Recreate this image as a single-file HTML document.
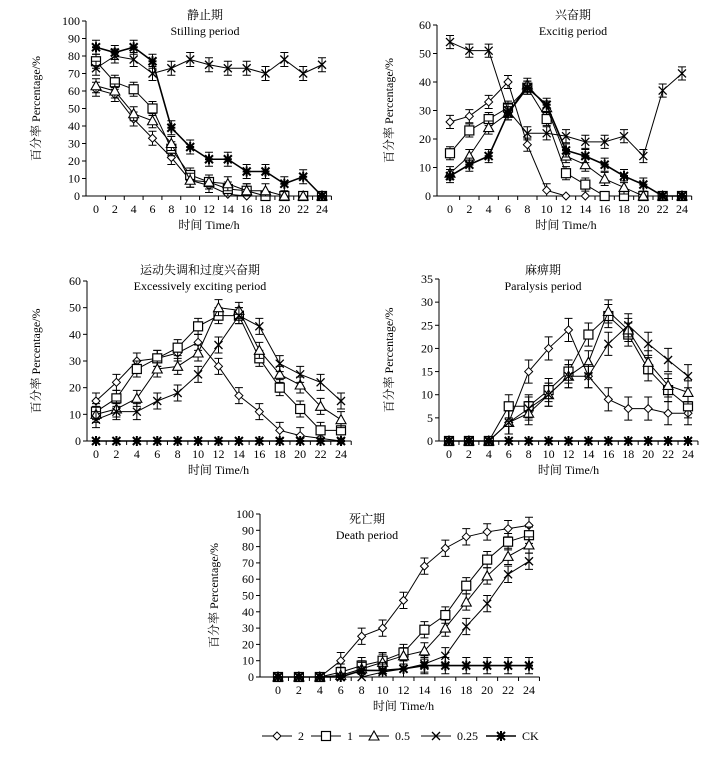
<!DOCTYPE html>
<html><head><meta charset="utf-8">
<style>
html,body{margin:0;padding:0;background:#fff;}
svg text{font-family:"Liberation Serif","Noto Serif CJK SC",serif;fill:#000;}
</style></head>
<body>
<svg id="chart" width="716" height="757" viewBox="0 0 716 757" xmlns="http://www.w3.org/2000/svg"></svg>
<script>
const categories = [0,2,4,6,8,10,12,14,16,18,20,22,24];
const seriesNames = ["2","1","0.5","0.25","CK"];
const markers = ["diamond","square","triangle","x","star"];

const stillingValues = [
 [61,58,44,33,22,9,6,1,0,0,0,0,0],
 [77,65,61,50,27,12,8,4,3,0,0,0,0],
 [63,60,47,43,30,9,8,7,3,3,0,0,0],
 [73,80,78,70,73,78,75,73,73,70,78,70,75],
 [85,82,85,77,39,28,21,21,14,14,7,11,0]
];
const excitingValues = [
 [26,28,33,40,18,2,0,0,0,0,0,0,0],
 [15,23,27,31,38,27,8,4,0,0,0,0,0],
 [8,14,24,29,39,31,14,11,6,3,0,0,0],
 [54,51,51,30,22,22,21,19,19,21,14,37,43],
 [7,11,14,29,38,32,16,14,11,7,4,0,0]
];
const excessiveValues = [
 [15,22,30,31,33,37,28,17,11,4,2,1,0],
 [11,16,27,31,35,43,47,47,31,20,12,4,4],
 [10,12,16,27,28,33,50,49,34,25,21,13,8],
 [8,11,11,15,18,25,36,47,43,29,25,22,15],
 [0,0,0,0,0,0,0,0,0,0,0,0,0]
];
const paralysisValues = [
 [0,0,0,4,15,20,24,14,9,7,7,6,6],
 [0,0,0,7.5,7.5,11,15,23,27,23,15.5,11,7.5],
 [0,0,0,4,6,10,14,17,28,24,17,12,10.5],
 [0,0,0,4,7,10,14,14,21,25,21,17.5,14],
 [0,0,0,0,0,0,0,0,0,0,0,0,0]
];
const deathValues = [
 [0,0,0,10,25,30,47,68,79,86,89,91,93],
 [0,0,0,3,7,10,15,29,38,56,72,83,87],
 [0,0,0,1,5,9,13,16,30,46,62,74,81],
 [0,0,0,0,0,3,5,8,13,31,45,63,71],
 [0,0,0,0,4,4,5,7,7,7,7,7,7]
];
const stillingTicks = [0,10,20,30,40,50,60,70,80,90,100];
const excitingTicks = [0,10,20,30,40,50,60];
const excessiveTicks = [0,10,20,30,40,50,60];
const paralysisTicks = [0,5,10,15,20,25,30,35];
const deathTicks = [0,10,20,30,40,50,60,70,80,90,100];

const panels = [
 {name:"stilling",data:stillingValues,ticks:stillingTicks,max:100,ax:86,x0:96,x24:322,yTop:21,yBot:196,err:4,cn:"静止期",en:"Stilling period",tx:205,ty:19,ylx:40,xlY:229},
 {name:"exciting",data:excitingValues,ticks:excitingTicks,max:60,ax:437,x0:450,x24:682,yTop:25,yBot:196,err:2.3,cn:"兴奋期",en:"Excitig period",tx:573,ty:19,ylx:393,xlY:229},
 {name:"excessive",data:excessiveValues,ticks:excessiveTicks,max:60,ax:87,x0:96,x24:341,yTop:281,yBot:441,err:3,cn:"运动失调和过度兴奋期",en:"Excessively exciting period",tx:200,ty:274,ylx:40,xlY:474},
 {name:"paralysis",data:paralysisValues,ticks:paralysisTicks,max:35,ax:439,x0:449,x24:688,yTop:279,yBot:441,err:2.5,cn:"麻痹期",en:"Paralysis period",tx:543,ty:274,ylx:393,xlY:474},
 {name:"death",data:deathValues,ticks:deathTicks,max:100,ax:260,x0:278,x24:529,yTop:514,yBot:677,err:5,cn:"死亡期",en:"Death period",tx:367,ty:523,ylx:218,xlY:710}
];

const NS="http://www.w3.org/2000/svg";
const svg=document.getElementById('chart');
function mk(tag,attrs,parent){const e=document.createElementNS(NS,tag);for(const k in attrs)e.setAttribute(k,attrs[k]);(parent||svg).appendChild(e);return e;}

function drawMarker(g,type,x,y){
 const s="#000";
 if(type==="diamond"){const e=mk('polygon',{points:`${x},${y-4} ${x+4},${y} ${x},${y+4} ${x-4},${y}`,fill:"#fff",stroke:s,"stroke-width":1},g);
  }
 else if(type==="square"){const e=mk('rect',{x:x-4.5,y:y-4.5,width:9,height:9,fill:"#fff",stroke:s,"stroke-width":1.2},g);
  }
 else if(type==="triangle"){const e=mk('polygon',{points:`${x},${y-5} ${x+5},${y+4} ${x-5},${y+4}`,fill:"#fff",stroke:s,"stroke-width":1.1},g);
  }
 else if(type==="x"){const e=mk('path',{d:`M${x-4},${y-4}L${x+4},${y+4}M${x+4},${y-4}L${x-4},${y+4}`,stroke:s,"stroke-width":1.3},g);
  }
 else {const e=mk('path',{d:`M${x-4},${y-4}L${x+4},${y+4}M${x+4},${y-4}L${x-4},${y+4}M${x},${y-5}L${x},${y+5}M${x-4},${y}L${x+4},${y}`,stroke:s,"stroke-width":2},g);
  }
}

panels.forEach(p=>{
 const g=mk('g',{});
 
 
 const step=(p.x24-p.x0)/(categories.length-1);
 const xs=i=>p.x0+i*step;
 const ys=v=>p.yBot-(v/p.max)*(p.yBot-p.yTop);
 const xEnd=p.x24+step*0.5;
 // axes
 const ya=mk('line',{x1:p.ax,y1:p.yTop,x2:p.ax,y2:p.yBot,stroke:"#000","stroke-width":1},g);
 
 const xa=mk('line',{x1:p.ax,y1:p.yBot,x2:xEnd,y2:p.yBot,stroke:"#000","stroke-width":1},g);
 
 p.ticks.forEach(t=>{
  const y=ys(t);
  mk('line',{x1:p.ax-4,y1:y,x2:p.ax,y2:y,stroke:"#000"},g);
  const tl=mk('text',{x:p.ax-6,y:y+4,"text-anchor":"end","font-size":12},g);
  tl.textContent=t;
  
 });
 categories.forEach((c,i)=>{
  mk('line',{x1:xs(i)+step/2,y1:p.yBot,x2:xs(i)+step/2,y2:p.yBot+4,stroke:"#000"},g);
  const tl=mk('text',{x:xs(i),y:p.yBot+17,"text-anchor":"middle","font-size":12},g);
  tl.textContent=c;
  
 });
 const t1=mk('text',{x:p.tx,y:p.ty,"text-anchor":"middle","font-size":12},g);t1.textContent=p.cn;
 
 const t2=mk('text',{x:p.tx,y:p.ty+16,"text-anchor":"middle","font-size":12},g);t2.textContent=p.en;
 
 const xl=mk('text',{x:(p.x0+p.x24)/2,y:p.xlY,"text-anchor":"middle","font-size":12},g);xl.textContent="时间  Time/h";
 
 const cy=(p.yTop+p.yBot)/2;
 const yl=mk('text',{x:p.ylx,y:cy,"text-anchor":"middle","font-size":12,transform:`rotate(-90 ${p.ylx} ${cy})`},g);
 yl.textContent="百分率  Percentage/%";
 
 // series
 p.data.forEach((vals,si)=>{
  const sg=mk('g',{},g);
  
  
  const pts=vals.map((v,i)=>`${xs(i)},${ys(v)}`).join(' ');
  const pl=mk('polyline',{points:pts,fill:"none",stroke:"#000","stroke-width":si===4?1.6:1},sg);
  
  vals.forEach((v,i)=>{
   if(v>0){
    const e=p.err, y1=ys(Math.min(p.max,v+e)), y2=ys(Math.max(0,v-e)), x=xs(i);
    const eb=mk('path',{d:`M${x},${y1}L${x},${y2}M${x-4},${y1}L${x+4},${y1}M${x-4},${y2}L${x+4},${y2}`,stroke:"#000","stroke-width":1,fill:"none"},sg);
    
   }
   drawMarker(sg,markers[si],xs(i),ys(v));
  });
 });
});

// legend
const legendX=[262,311,359,421,486];
const lg=mk('g',{});


seriesNames.forEach((n,i)=>{
 const eg=mk('g',{},lg);
 
 
 const x=legendX[i],y=736;
 mk('line',{x1:x,y1:y,x2:x+30,y2:y,stroke:"#000","stroke-width":i===4?1.6:1},eg);
 drawMarker(eg,markers[i],x+15,y);
 const t=mk('text',{x:x+36,y:y+4,"font-size":12},eg);t.textContent=n;
});
</script>
</body></html>
